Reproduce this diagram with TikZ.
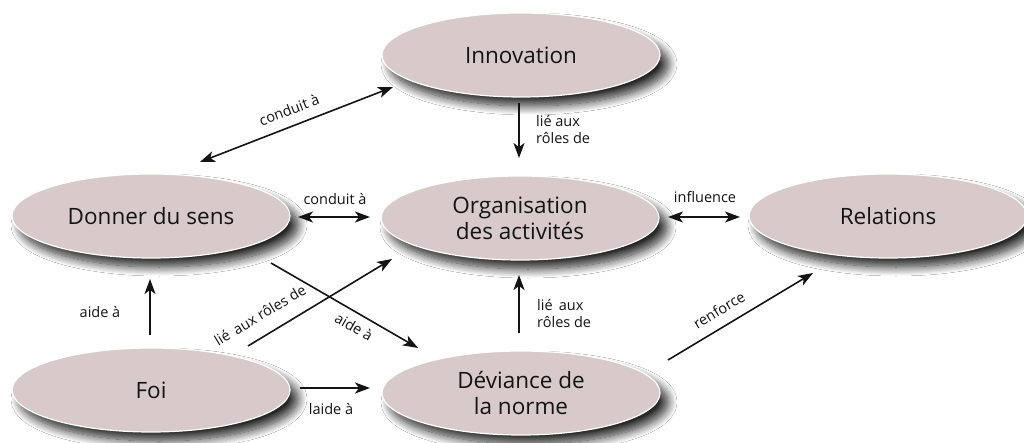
\documentclass[tikz,border=0pt]{standalone}
\usepackage{fontspec}
\setmainfont{Open Sans}
\usetikzlibrary{shapes.geometric,shadows.blur,arrows.meta}
\definecolor{bubble}{RGB}{216,202,202}
\definecolor{ink}{RGB}{20,20,20}
\begin{document}
\begin{tikzpicture}[x=1pt,y=-1pt,
  bub/.style={ellipse, minimum width=278pt, minimum height=84pt, inner sep=0pt,
    fill=bubble, draw=white, line width=1.2pt, text=ink,
    font=\fontsize{22.5}{26}\selectfont, align=center,
    blur shadow={shadow xshift=8pt, shadow yshift=-9pt, shadow blur radius=9pt,
      shadow blur steps=14, shadow opacity=85}},
  con/.style={draw=ink, line width=1.6pt, -{Stealth[length=15pt,width=11pt,inset=4pt]}},
  dcon/.style={con, {Stealth[length=15pt,width=11pt,inset=4pt]}-{Stealth[length=15pt,width=11pt,inset=4pt]}},
  lab/.style={font=\fontsize{14.5}{17}\selectfont, text=ink, inner sep=0pt}]
\useasboundingbox (0,0) rectangle (1024,443);
\fill[white] (0,0) rectangle (1024,443);

\node[bub] (inn) at (521,55) {Innovation};
\node[bub] (don) at (151,216) {Donner du sens};
\node[bub] (org) at (520,218) {Organisation\\des activités};
\node[bub] (rel) at (888,216) {Relations};
\node[bub] (foi) at (151,390) {Foi};
\node[bub] (dev) at (521,393) {Déviance de\\la norme};

% Donner <-> Innovation
\draw[dcon] ([shift={(49,-54)}]don.center) -- ([shift={(-128,32)}]inn.center);
\node[lab, rotate=21] (t1) at (289,110) {conduit à};
% Innovation -> Organisation
\draw[con] ([shift={(-2,48)}]inn.center) -- ([shift={(-1,-60)}]org.center);
\node[lab, align=left, anchor=west] (t2) at (536,130) {lié aux\\rôles de};
% Donner <-> Organisation
\draw[dcon] ([shift={(147,1)}]don.center) -- ([shift={(-150,-1)}]org.center);
\node[lab] (t3) at (335,199) {conduit à};
% Organisation <-> Relations
\draw[dcon] ([shift={(148,-1)}]org.center) -- ([shift={(-148,1)}]rel.center);
\node[lab] (t4) at (705,197) {influence};
% Foi -> Donner
\draw[con] ([shift={(-1,-55)}]foi.center) -- ([shift={(-1,63)}]don.center);
\node[lab] (t5) at (100,312) {aide à};
% Foi -> Organisation
\draw[con] ([shift={(97,-44)}]foi.center) -- ([shift={(-128,41)}]org.center);
\node[lab, rotate=31] (t6) at (260,315) {lié\, aux rôles de};
% Donner -> Deviance
\draw[con] ([shift={(120,47)}]don.center) -- ([shift={(-103,-45)}]dev.center);
\node[lab, rotate=-30] (t7) at (354,327) {aide à};
% Foi -> Deviance
\draw[con] ([shift={(149,-2)}]foi.center) -- ([shift={(-151,-5)}]dev.center);
\node[lab] (t8) at (331,409) {laide à};
% Deviance -> Organisation
\draw[con] ([shift={(-2,-60)}]dev.center) -- ([shift={(-1,57)}]org.center);
\node[lab, align=left, anchor=west] (t9) at (537,314) {lié\, aux\\rôles de};
% Deviance -> Relations
\draw[con] ([shift={(147,-33)}]dev.center) -- ([shift={(-75,57)}]rel.center);
\node[lab, rotate=31] (t10) at (719,310) {renforce};
\end{tikzpicture}
\end{document}
